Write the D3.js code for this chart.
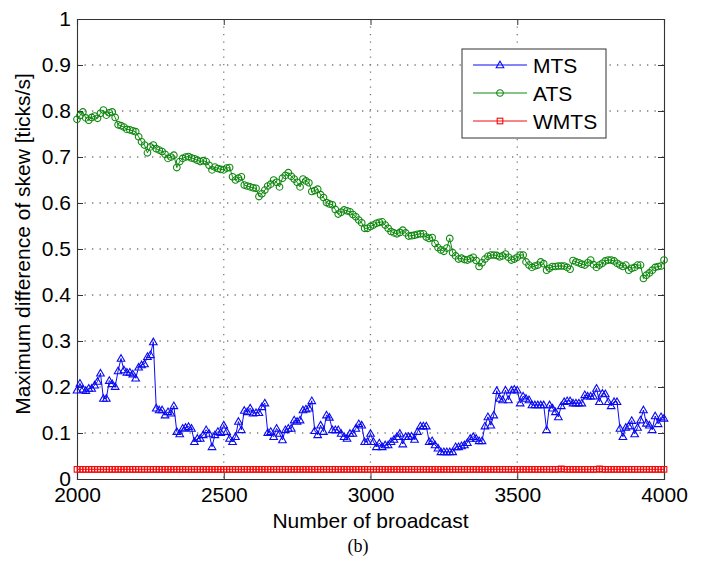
<!DOCTYPE html>
<html>
<head>
<meta charset="utf-8">
<script src="https://cdn.jsdelivr.net/npm/d3@7/dist/d3.min.js"></script>
<style>
  html, body { margin: 0; padding: 0; background: #fff; }
  svg { display: block; }
  text { font-family: Arial, "Liberation Sans", Helvetica, sans-serif; fill: #000; }
</style>
</head>
<body>
<svg id="chart" width="706" height="565"></svg>
<script>
// Broadcast index: 2000 to 4000, one sample every 10 broadcasts
const broadcastStart = 2000;
const broadcastStep = 10;

// Maximum skew difference [ticks/s] for each synchronisation scheme
const mtsValues = [
  0.193, 0.208, 0.195, 0.192, 0.197, 0.197, 0.204, 0.212, 0.230, 0.175,
  0.175, 0.214, 0.207, 0.201, 0.235, 0.262, 0.237, 0.232, 0.232, 0.228,
  0.219, 0.243, 0.248, 0.250, 0.266, 0.270, 0.298, 0.154, 0.150, 0.150,
  0.139, 0.146, 0.143, 0.159, 0.103, 0.098, 0.110, 0.112, 0.114, 0.110,
  0.081, 0.088, 0.088, 0.096, 0.107, 0.099, 0.070, 0.096, 0.103, 0.101,
  0.117, 0.103, 0.088, 0.081, 0.092, 0.125, 0.107, 0.149, 0.146, 0.154,
  0.143, 0.144, 0.144, 0.157, 0.165, 0.101, 0.103, 0.092, 0.110, 0.099,
  0.085, 0.107, 0.110, 0.110, 0.128, 0.125, 0.128, 0.150, 0.152, 0.154,
  0.170, 0.105, 0.096, 0.117, 0.103, 0.139, 0.134, 0.107, 0.107, 0.107,
  0.099, 0.092, 0.088, 0.099, 0.099, 0.110, 0.120, 0.117, 0.081, 0.081,
  0.099, 0.081, 0.070, 0.078, 0.070, 0.074, 0.074, 0.081, 0.086, 0.092,
  0.099, 0.076, 0.092, 0.092, 0.093, 0.086, 0.103, 0.115, 0.115, 0.115,
  0.081, 0.083, 0.074, 0.067, 0.059, 0.059, 0.059, 0.059, 0.059, 0.070,
  0.070, 0.072, 0.074, 0.079, 0.088, 0.092, 0.088, 0.083, 0.083, 0.115,
  0.135, 0.117, 0.139, 0.192, 0.175, 0.172, 0.193, 0.172, 0.193, 0.195,
  0.193, 0.165, 0.180, 0.175, 0.172, 0.161, 0.161, 0.161, 0.161, 0.161,
  0.107, 0.161, 0.154, 0.146, 0.135, 0.159, 0.168, 0.170, 0.170, 0.165,
  0.165, 0.165, 0.165, 0.183, 0.180, 0.180, 0.180, 0.197, 0.168, 0.186,
  0.185, 0.168, 0.159, 0.168, 0.168, 0.110, 0.092, 0.112, 0.115, 0.127,
  0.098, 0.112, 0.128, 0.150, 0.121, 0.117, 0.107, 0.137, 0.120, 0.135,
  0.132
];

const atsValues = [
  0.782, 0.790, 0.798, 0.785, 0.780, 0.786, 0.789, 0.784, 0.795, 0.802,
  0.791, 0.796, 0.798, 0.786, 0.770, 0.768, 0.765, 0.760, 0.759, 0.757,
  0.755, 0.744, 0.733, 0.726, 0.709, 0.722, 0.726, 0.718, 0.715, 0.712,
  0.706, 0.697, 0.700, 0.704, 0.677, 0.690, 0.697, 0.700, 0.701, 0.698,
  0.696, 0.693, 0.690, 0.692, 0.690, 0.682, 0.672, 0.678, 0.675, 0.673,
  0.672, 0.676, 0.677, 0.657, 0.650, 0.654, 0.657, 0.639, 0.637, 0.635,
  0.633, 0.632, 0.614, 0.620, 0.628, 0.637, 0.641, 0.650, 0.645, 0.635,
  0.654, 0.660, 0.666, 0.658, 0.652, 0.645, 0.635, 0.652, 0.648, 0.644,
  0.625, 0.627, 0.630, 0.618, 0.612, 0.601, 0.598, 0.596, 0.586, 0.576,
  0.580, 0.585, 0.583, 0.581, 0.575, 0.570, 0.563, 0.557, 0.545, 0.545,
  0.549, 0.552, 0.556, 0.558, 0.559, 0.552, 0.545, 0.538, 0.535, 0.533,
  0.536, 0.541, 0.535, 0.528, 0.529, 0.530, 0.532, 0.533, 0.533, 0.526,
  0.523, 0.525, 0.512, 0.503, 0.498, 0.495, 0.502, 0.523, 0.492, 0.485,
  0.478, 0.480, 0.477, 0.476, 0.479, 0.482, 0.475, 0.462, 0.470, 0.478,
  0.484, 0.487, 0.487, 0.486, 0.483, 0.485, 0.489, 0.482, 0.476, 0.478,
  0.482, 0.487, 0.487, 0.472, 0.465, 0.460, 0.463, 0.465, 0.472, 0.468,
  0.454, 0.458, 0.462, 0.462, 0.463, 0.463, 0.463, 0.460, 0.456, 0.475,
  0.472, 0.470, 0.467, 0.465, 0.470, 0.476, 0.466, 0.460, 0.465, 0.469,
  0.474, 0.476, 0.476, 0.474, 0.469, 0.465, 0.462, 0.465, 0.454, 0.458,
  0.460, 0.465, 0.465, 0.436, 0.443, 0.448, 0.454, 0.460, 0.462, 0.463,
  0.476
];

const wmtsValues = [
  0.021, 0.021, 0.021, 0.021, 0.021, 0.021, 0.021, 0.021, 0.021, 0.021,
  0.021, 0.021, 0.021, 0.021, 0.021, 0.021, 0.021, 0.021, 0.021, 0.021,
  0.021, 0.021, 0.021, 0.021, 0.021, 0.021, 0.021, 0.021, 0.021, 0.021,
  0.021, 0.021, 0.021, 0.021, 0.021, 0.021, 0.021, 0.021, 0.021, 0.021,
  0.021, 0.021, 0.021, 0.021, 0.021, 0.021, 0.021, 0.021, 0.021, 0.021,
  0.021, 0.021, 0.021, 0.021, 0.021, 0.021, 0.021, 0.021, 0.021, 0.021,
  0.021, 0.021, 0.021, 0.021, 0.021, 0.021, 0.021, 0.021, 0.021, 0.021,
  0.021, 0.021, 0.021, 0.021, 0.021, 0.021, 0.021, 0.021, 0.021, 0.021,
  0.021, 0.021, 0.021, 0.021, 0.021, 0.021, 0.021, 0.021, 0.021, 0.021,
  0.021, 0.021, 0.021, 0.021, 0.021, 0.021, 0.021, 0.021, 0.021, 0.021,
  0.021, 0.021, 0.021, 0.021, 0.021, 0.021, 0.021, 0.021, 0.021, 0.021,
  0.021, 0.021, 0.021, 0.021, 0.021, 0.021, 0.021, 0.021, 0.021, 0.021,
  0.021, 0.021, 0.021, 0.021, 0.021, 0.021, 0.021, 0.021, 0.021, 0.021,
  0.021, 0.021, 0.021, 0.021, 0.021, 0.021, 0.021, 0.021, 0.021, 0.021,
  0.021, 0.021, 0.021, 0.021, 0.021, 0.021, 0.021, 0.021, 0.021, 0.021,
  0.021, 0.021, 0.021, 0.021, 0.021, 0.021, 0.021, 0.021, 0.021, 0.021,
  0.021, 0.021, 0.021, 0.021, 0.021, 0.022, 0.021, 0.021, 0.021, 0.021,
  0.021, 0.021, 0.021, 0.021, 0.021, 0.021, 0.021, 0.021, 0.022, 0.021,
  0.021, 0.021, 0.021, 0.021, 0.021, 0.021, 0.021, 0.021, 0.021, 0.021,
  0.021, 0.021, 0.021, 0.021, 0.021, 0.021, 0.021, 0.021, 0.021, 0.021,
  0.021
];

const seriesNames = ["MTS", "ATS", "WMTS"];
const xTicks = [2000, 2500, 3000, 3500, 4000];
const yTicks = [0, 0.1, 0.2, 0.3, 0.4, 0.5, 0.6, 0.7, 0.8, 0.9, 1];
const xTitle = "Number of broadcast";
const yTitle = "Maximum difference of skew [ticks/s]";
const caption = "(b)";

// Layout
const margin = { left: 77, right: 42, top: 19, bottom: 86 };
const W = 706, H = 565;
const plotW = W - margin.left - margin.right;
const plotH = H - margin.top - margin.bottom;

const svg = d3.select("#chart");
const g = svg.append("g").attr("transform", `translate(${margin.left},${margin.top})`);

const x = d3.scaleLinear().domain([2000, 4000]).range([0, plotW]);
const y = d3.scaleLinear().domain([0, 1]).range([plotH, 0]);

const toPoints = vals => vals.map((v, i) => ({ b: broadcastStart + i * broadcastStep, v }));

const series = [
  { name: seriesNames[0], color: "#0a0af2", marker: "triangle", data: toPoints(mtsValues) },
  { name: seriesNames[1], color: "#0e880e", marker: "circle", data: toPoints(atsValues) },
  { name: seriesNames[2], color: "#f20a0a", marker: "square", data: toPoints(wmtsValues) }
];

// Dotted grid
const gridColor = "#7a7a7a";
g.append("g").selectAll("line").data(xTicks.slice(1, -1)).join("line")
  .attr("x1", d => x(d)).attr("x2", d => x(d))
  .attr("y1", 0).attr("y2", plotH)
  .attr("stroke", gridColor).attr("stroke-width", 1.3)
  .attr("stroke-dasharray", "1.3,6.2");
g.append("g").selectAll("line").data(yTicks.slice(1, -1)).join("line")
  .attr("x1", 0).attr("x2", plotW)
  .attr("y1", d => y(d)).attr("y2", d => y(d))
  .attr("stroke", gridColor).attr("stroke-width", 1.3)
  .attr("stroke-dasharray", "1.3,6.2");

// Axes: ticks pointing inward on all four sides
const tickLen = 6;
const axisColor = "#333";
const xAxisB = d3.axisBottom(x).tickValues(xTicks).tickSize(-tickLen).tickPadding(8).tickFormat(d3.format("d"));
const xAxisT = d3.axisTop(x).tickValues(xTicks).tickSize(-tickLen).tickFormat("");
const yAxisL = d3.axisLeft(y).tickValues(yTicks).tickSize(-tickLen).tickPadding(6).tickFormat(d => d === 0 || d === 1 ? d3.format("d")(d) : d3.format(".1f")(d));
const yAxisR = d3.axisRight(y).tickValues(yTicks).tickSize(-tickLen).tickFormat("");

function styleAxis(sel) {
  sel.select(".domain").attr("stroke", axisColor).attr("stroke-width", 1.1);
  sel.selectAll(".tick line").attr("stroke", axisColor).attr("stroke-width", 1);
  sel.selectAll(".tick text").attr("font-size", 21).attr("fill", "#000")
    .attr("font-family", "Arial, 'Liberation Sans', sans-serif");
}

g.append("g").attr("transform", `translate(0,${plotH})`).call(xAxisB).call(styleAxis);
g.append("g").call(xAxisT).call(styleAxis);
g.append("g").call(yAxisL).call(styleAxis);
g.append("g").attr("transform", `translate(${plotW},0)`).call(yAxisR).call(styleAxis);

// Marker shapes
function drawMarkers(sel, kind, color) {
  if (kind === "circle") {
    sel.append("circle").attr("r", 3.3).attr("fill", "none")
      .attr("stroke", color).attr("stroke-width", 1.1);
  } else if (kind === "triangle") {
    sel.append("path").attr("d", "M0,-3.8L3.8,2.8L-3.8,2.8Z").attr("fill", "none")
      .attr("stroke", color).attr("stroke-width", 1.1);
  } else {
    sel.append("rect").attr("x", -2.8).attr("y", -2.8).attr("width", 5.6).attr("height", 5.6)
      .attr("fill", "none").attr("stroke", color).attr("stroke-width", 1.1);
  }
}

const line = d3.line().x(d => x(d.b)).y(d => y(d.v));

const plot = g.append("g");
series.slice().reverse().forEach(s => {
  const sg = plot.append("g");
  sg.append("path").datum(s.data).attr("d", line)
    .attr("fill", "none").attr("stroke", s.color).attr("stroke-width", 1);
  const pts = sg.selectAll("g.pt").data(s.data).join("g")
    .attr("class", "pt")
    .attr("transform", d => `translate(${x(d.b)},${y(d.v)})`);
  drawMarkers(pts, s.marker, s.color);
});

// Legend
const legend = svg.append("g").attr("transform", "translate(462,49)");
legend.append("rect").attr("width", 144).attr("height", 89)
  .attr("fill", "#fff").attr("stroke", axisColor).attr("stroke-width", 1);
series.forEach((s, i) => {
  const row = legend.append("g").attr("transform", `translate(0,${16 + i * 28})`);
  row.append("line").attr("x1", 11).attr("x2", 65).attr("y1", 0).attr("y2", 0)
    .attr("stroke", s.color).attr("stroke-width", 1);
  const m = row.append("g").attr("transform", "translate(38,0)");
  drawMarkers(m, s.marker, s.color);
  row.append("text").attr("x", 71).attr("y", 0).attr("dy", "0.36em")
    .attr("font-size", 21).text(s.name);
});

// Axis titles and caption
svg.append("text").attr("x", margin.left + plotW / 2).attr("y", 528)
  .attr("text-anchor", "middle").attr("font-size", 21).text(xTitle);
svg.append("text")
  .attr("transform", `translate(30,${margin.top + plotH / 2 - 5}) rotate(-90)`)
  .attr("text-anchor", "middle").attr("font-size", 21).text(yTitle);
svg.append("text").attr("x", 358).attr("y", 552)
  .attr("text-anchor", "middle").attr("font-size", 18)
  .style("font-family", "'Liberation Serif', 'Times New Roman', serif").text(caption);
</script>
</body>
</html>
